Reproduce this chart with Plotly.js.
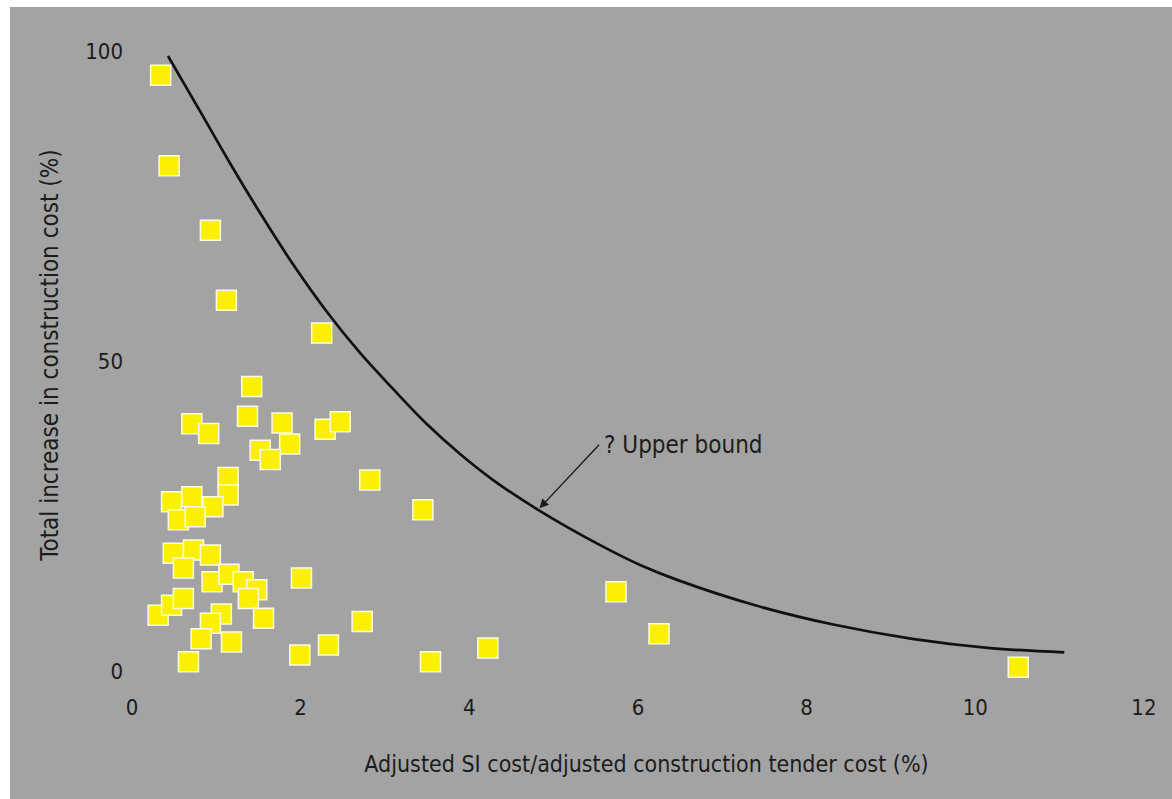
<!DOCTYPE html>
<html>
<head>
<meta charset="utf-8">
<script src="https://cdn.plot.ly/plotly-3.0.1.min.js"></script>
<style>
  html, body { margin: 0; padding: 0; background: #ffffff; width: 1172px; height: 799px; overflow: hidden; }
  #chart { position: absolute; left: 10px; top: 7px; width: 1162px; height: 792px; }
</style>
</head>
<body>
<div id="chart"></div>
<script>
// Projects: adjusted SI cost / adjusted construction tender cost (%) vs total increase in construction cost (%)
const siCostPct = [
  0.34, 0.44, 0.93, 1.12, 2.25,
  1.42, 1.37, 0.71, 0.91, 1.78, 1.87, 1.52, 1.64, 2.29, 2.47, 2.82, 1.14, 1.14,
  0.47, 0.71, 0.96, 0.55, 0.75,
  3.45,
  0.49, 0.73, 0.93, 0.61, 0.95, 1.15, 1.32, 1.48, 1.38,
  0.31, 0.47, 0.61, 1.06, 0.93, 0.82, 1.18, 1.56, 0.67,
  2.01, 1.99, 2.33, 2.73, 3.54, 4.22, 5.74, 6.25, 10.51
];
const costIncreasePct = [
  96.1, 81.5, 71.1, 59.8, 54.5,
  45.9, 41.1, 39.9, 38.3, 40.0, 36.6, 35.6, 34.1, 39.0, 40.2, 30.8, 31.2, 28.4,
  27.3, 28.1, 26.5, 24.4, 24.9,
  26.0,
  19.0, 19.5, 18.7, 16.6, 14.4, 15.6, 14.4, 13.1, 11.7,
  9.0, 10.6, 11.7, 9.2, 7.7, 5.2, 4.7, 8.5, 1.5,
  15.0, 2.6, 4.2, 8.0, 1.5, 3.7, 12.8, 6.0, 0.6
];

// Hand-drawn "? Upper bound" curve
const boundX = [0.427, 0.807, 1.163, 1.518, 1.910, 2.313, 2.705, 3.096, 3.499, 3.891, 4.283, 4.816, 5.552, 6.026, 6.465, 7.390, 8.316, 9.253, 10.178, 11.056];
const boundY = [99.2, 90.3, 81.9, 73.9, 65.6, 57.9, 51.3, 45.5, 39.8, 35.0, 30.8, 26.0, 20.3, 17.1, 14.7, 10.6, 7.5, 5.2, 3.7, 3.0];
const arrowIndex = 11;

const xTicks = [0, 2, 4, 6, 8, 10, 12];
const xTickLabels = ['0', '2', '4', '6', '8', '10', '12'];
const yTicks = [0, 50, 100];
const yTickLabels = ['0', '50', '100'];

const FONT = '"DejaVu Sans Condensed", "Liberation Sans Narrow", "DejaVu Sans", sans-serif';
const INK = '#1c1c1c';
const GREY = '#a3a3a3';

const traces = [
  {
    x: boundX, y: boundY,
    type: 'scatter', mode: 'lines',
    line: { color: '#111111', width: 2.7, shape: 'spline', smoothing: 1 },
    hoverinfo: 'skip', showlegend: false
  },
  {
    x: siCostPct, y: costIncreasePct,
    type: 'scatter', mode: 'markers',
    marker: { symbol: 'square', size: 20, color: '#fbf000', line: { color: '#fffbe0', width: 1.5 } },
    showlegend: false
  }
];

const layout = {
  width: 1162, height: 792,
  paper_bgcolor: GREY, plot_bgcolor: GREY,
  margin: { l: 118, r: 7, t: 13, b: 109 },
  font: { family: FONT, color: INK, size: 22 },
  showlegend: false,
  xaxis: {
    range: [-0.047, 12.25],
    tickmode: 'array', tickvals: xTicks, ticktext: xTickLabels,
    ticks: '', showgrid: false, zeroline: false, showline: false,
    tickfont: { family: FONT, size: 22, color: INK },
    ticklabelstandoff: 2,
    title: { text: 'Adjusted SI cost/adjusted construction tender cost (%)', font: { family: FONT, size: 23, color: INK }, standoff: 36 }
  },
  yaxis: {
    range: [-3.06, 105],
    tickmode: 'array', tickvals: yTicks, ticktext: yTickLabels,
    ticks: '', showgrid: false, zeroline: false, showline: false,
    tickfont: { family: FONT, size: 22, color: INK },
    ticklabelstandoff: 4,
    title: { text: 'Total increase in construction cost (%)', font: { family: FONT, size: 24, color: INK }, standoff: 19 }
  },
  annotations: [
    {
      x: boundX[arrowIndex], y: boundY[arrowIndex], xref: 'x', yref: 'y',
      text: '? Upper bound', showarrow: true,
      ax: 61, ay: -65, xanchor: 'left', yanchor: 'middle',
      arrowhead: 2, arrowsize: 1.3, arrowwidth: 1.4, arrowcolor: '#1a1a1a',
      standoff: 2, borderpad: 4,
      font: { family: FONT, size: 24, color: INK }
    }
  ]
};

Plotly.newPlot('chart', traces, layout, { staticPlot: true, displayModeBar: false });
</script>
</body>
</html>
